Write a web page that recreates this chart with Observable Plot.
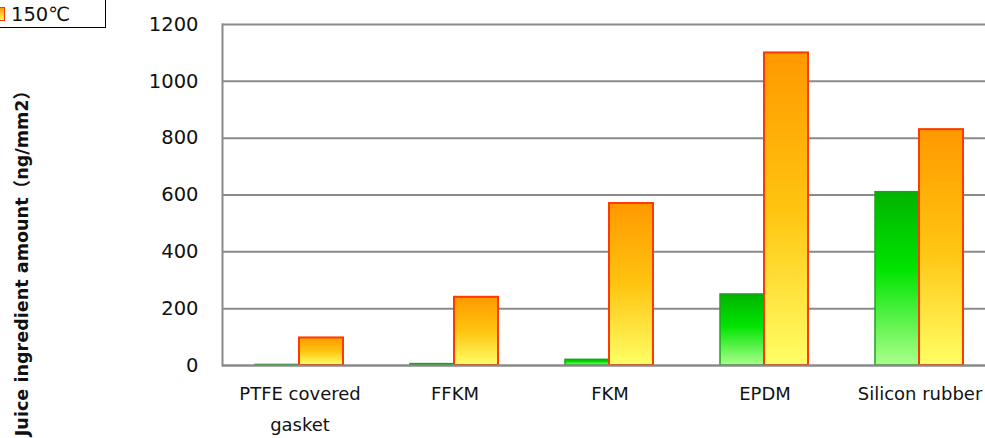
<!DOCTYPE html>
<html><head><meta charset="utf-8">
<script src="https://cdn.jsdelivr.net/npm/d3@7"></script>
<script src="https://cdn.jsdelivr.net/npm/@observablehq/plot@0.6"></script>
<style>
html,body{margin:0;padding:0;background:#fff;overflow:hidden}
#wrap{position:relative;width:985px;height:438px;overflow:hidden;font-family:"DejaVu Sans","Noto Sans CJK JP",sans-serif;color:#111}
#ylabel{position:absolute;left:20px;top:259px;transform:translate(-50%,-50%) rotate(-90deg);white-space:nowrap;font-weight:bold;font-size:17.6px}
#legend{position:absolute;left:-25px;top:-34px;width:129px;height:60px;border:1.5px solid #000;background:#fff}
.item{position:absolute;left:0;height:20px;display:flex;align-items:center;font-size:19.5px}
.sw{display:inline-block;width:9px;height:14px;margin-left:20px;margin-right:6px;box-sizing:border-box}
</style></head><body><div id="wrap"></div>
<script>
const materials = ["PTFE covered\ngasket", "FFKM", "FKM", "EPDM", "Silicon rubber"];
const values100 = [2, 5, 20, 250, 610];
const values150 = [97, 240, 570, 1100, 830];
const yTicks = [0, 200, 400, 600, 800, 1000, 1200];
const seriesLabels = ["100℃", "150℃"];
const yLabel = "Juice ingredient amount（ng/mm2）";

const wrap = document.getElementById("wrap");

const chart = Plot.plot({
  width: 985,
  height: 438,
  marginLeft: 222,
  marginRight: -12,
  marginTop: 24,
  marginBottom: 73,
  style: {fontFamily: '"DejaVu Sans","Noto Sans CJK JP",sans-serif', fontSize: "18px", color: "#111", background: "#fff"},
  x: {domain: materials, padding: 0},
  y: {domain: [0, 1200]},
  marks: [
    Plot.gridY(yTicks, {stroke: "#8a8a8a", strokeOpacity: 1, strokeWidth: 2}),
    Plot.barY(materials, {x: d => d, y: (d, i) => values100[i], fill: "url(#gGreen)", stroke: "#22a022", strokeWidth: 1.5, insetLeft: 33, insetRight: 78}),
    Plot.barY(materials, {x: d => d, y: (d, i) => values150[i], fill: "url(#gOrange)", stroke: "#ff3a00", strokeWidth: 2, insetLeft: 77, insetRight: 34}),
    Plot.ruleY([0], {stroke: "#8a8a8a", strokeWidth: 2}),
    Plot.frame({anchor: "left", stroke: "#8a8a8a", strokeWidth: 2}),
    Plot.axisY({ticks: yTicks, tickFormat: d => String(d), tickSize: 0, tickPadding: 24, label: null, fontSize: 19.5}),
    Plot.axisX({tickSize: 0, tickPadding: 12, label: null, fontSize: 18, lineHeight: 1.75})
  ]
});

d3.select(chart).insert("defs", ":first-child").html(`
  <linearGradient id="gGreen" x1="0" y1="0" x2="0" y2="1">
    <stop offset="0" stop-color="#00b400"/>
    <stop offset="0.45" stop-color="#00e400"/>
    <stop offset="1" stop-color="#aaff8c"/>
  </linearGradient>
  <linearGradient id="gOrange" x1="0" y1="0" x2="0" y2="1">
    <stop offset="0" stop-color="#ff9900"/>
    <stop offset="0.5" stop-color="#ffc410"/>
    <stop offset="1" stop-color="#ffff66"/>
  </linearGradient>`);

wrap.appendChild(chart);

const yl = document.createElement("div");
yl.id = "ylabel";
yl.textContent = yLabel;
wrap.appendChild(yl);

// Legend: only the lower entry (150℃) is visible in the reference; the upper one lies off-page.
const legend = document.createElement("div");
legend.id = "legend";
const swatchStyles = [
  "background:linear-gradient(#00b400,#aaff8c);border:1px solid #22a022",
  "background:linear-gradient(#ff9900,#ffff66);border:1.5px solid #ff3a00"
];
seriesLabels.forEach((s, i) => {
  if (i === 0) return;
  const it = document.createElement("div");
  it.className = "item";
  it.style.top = "37px";
  it.innerHTML = `<span class="sw" style="${swatchStyles[i]}"></span><span>${s}</span>`;
  legend.appendChild(it);
});
wrap.appendChild(legend);
</script>
</body></html>
